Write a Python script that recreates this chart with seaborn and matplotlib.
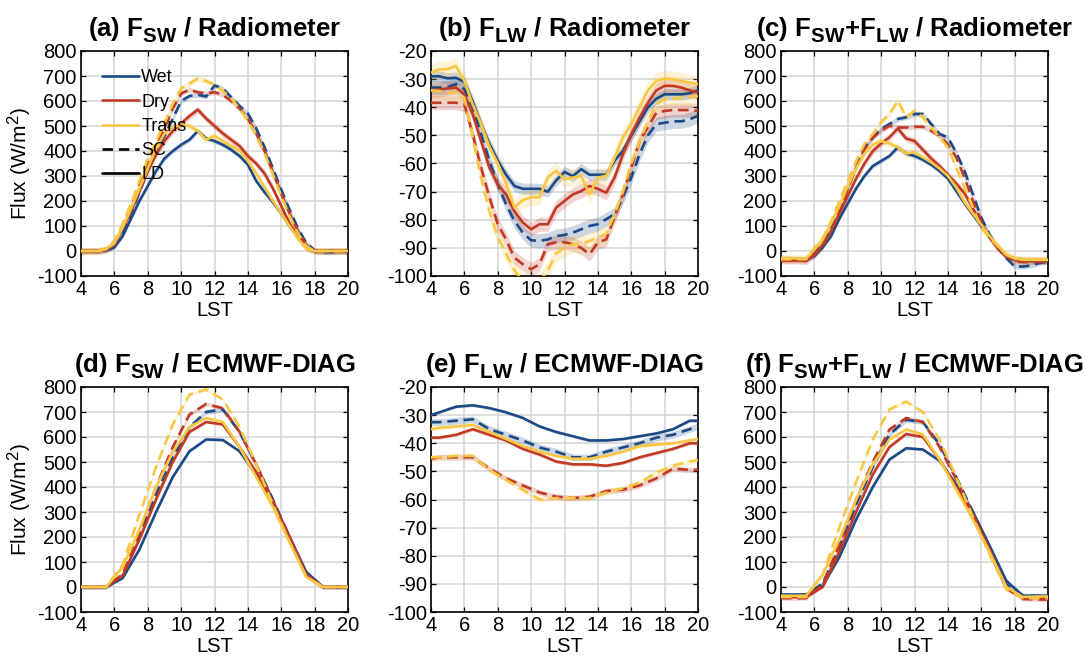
import numpy as np
import pandas as pd
import matplotlib
matplotlib.use("Agg")
import matplotlib.pyplot as plt
import matplotlib._mathtext as _mt
import seaborn as sns
from matplotlib.lines import Line2D

# ---------------- data ----------------
H_RAD = [4, 4.5, 5, 5.5, 6, 6.5, 7, 7.5, 8, 8.5, 9, 9.5, 10, 10.5, 11, 11.5,
         12, 12.5, 13, 13.5, 14, 14.5, 15, 15.5, 16, 16.5, 17, 17.5, 18, 18.5,
         19, 19.5, 20]
H_ECM = [4, 4.5, 5.5, 6.5, 7.5, 8.5, 9.5, 10.5, 11.5, 12.5, 13.5, 14.5, 15.5,
         16.5, 17.5, 18.5, 19.5, 20]

REGIMES = ["Wet", "Dry", "Trans"]
PRODUCTS = ["SC", "LD"]

# (a) F_SW / Radiometer
A_WET_SC = [0, 0, 0, 5, 20, 75, 150, 235, 320, 395, 460, 530, 600, 620, 625, 618,
            662, 650, 615, 580, 550, 490, 415, 330, 245, 165, 90, 32, 2, -5, -5, -3, -2]
A_DRY_SC = [0, 0, 0, 5, 30, 95, 175, 265, 350, 420, 490, 570, 630, 645, 635, 630,
            635, 625, 600, 570, 530, 470, 400, 315, 230, 150, 80, 25, 0, 0, 0, 0, 0]
A_TRANS_SC = [0, 0, 0, 8, 40, 110, 190, 280, 370, 440, 510, 590, 650, 670, 690, 680,
              665, 640, 610, 570, 520, 460, 390, 305, 220, 140, 70, 20, 0, 0, 0, 0, 0]
A_WET_LD = [0, 0, 0, 3, 15, 60, 130, 200, 260, 320, 370, 400, 425, 445, 480, 450,
            440, 425, 405, 380, 345, 280, 235, 195, 150, 100, 55, 15, 0, 0, 0, 0, 0]
A_DRY_LD = [0, 0, 0, 5, 25, 90, 160, 240, 320, 385, 440, 480, 510, 540, 565, 530,
            500, 470, 445, 420, 380, 350, 310, 250, 180, 110, 60, 15, 0, 0, 0, 0, 0]
A_TRANS_LD = [0, 0, 0, 8, 30, 95, 170, 250, 330, 410, 470, 495, 505, 500, 480, 445,
              460, 440, 420, 400, 360, 310, 255, 200, 150, 100, 50, 10, 0, 0, 0, 0, 0]

# (b) F_LW / Radiometer
B_WET_SC = [-33, -33, -32.8, -31.8, -33.6, -40, -49.6, -59, -67.4, -74.5, -80.4, -84.6,
            -87.3, -87.5, -87, -85.8, -85.4, -84.6, -83.4, -82.2, -81.6, -79.8, -78,
            -72, -65, -56.7, -50, -46, -45.5, -45, -45, -44.3, -43]
B_DRY_SC = [-38.4, -38.4, -38.4, -38.4, -39, -49.6, -61.5, -72, -81.6, -87, -93.5, -95.8,
            -97.6, -95.8, -88.7, -88, -88, -88.7, -90, -92.3, -88, -87, -79, -71, -61.5,
            -52, -47, -42, -41.3, -41, -41, -41, -41.3]
B_TRANS_SC = [-34, -34.2, -34.8, -34.8, -36.6, -51, -65, -77, -86, -92, -98, -101.7,
              -103, -102, -98, -92, -90, -88.7, -88.7, -87.5, -86.4, -85, -78, -70, -60,
              -52, -45, -39, -37, -37, -36.6, -36.3, -36]
B_WET_LD = [-29, -29, -29.7, -29.5, -31, -38, -46, -53, -59, -64, -68, -69, -69, -69,
            -70, -66, -63, -64.5, -62, -64, -64, -64, -59, -55.5, -50, -45, -40, -37,
            -35.4, -35.4, -35.4, -35, -34]
B_DRY_LD = [-34, -33.7, -33.3, -33, -35.4, -42.5, -52, -61.5, -67.4, -71, -77, -81,
            -83.4, -81.6, -81.6, -75.7, -73.3, -71, -69.8, -68, -69, -70.4, -65, -56.7,
            -49.6, -43.7, -38.4, -34, -32.4, -32.4, -33, -34, -34.8]
B_TRANS_LD = [-27.7, -26.5, -26.5, -25.3, -30.7, -39, -46, -54, -60, -67, -75.7, -73,
              -72, -72, -65, -62.6, -65.6, -65, -64.4, -71, -65, -64.4, -58, -50.8, -46,
              -40, -34, -30.7, -29.7, -30, -30.7, -31.2, -31.8]

# (c) F_SW+F_LW / Radiometer
C_WET_SC = [-33, -33, -33, -33, -8, 32, 92, 166, 253, 334, 414, 454, 488, 508, 528, 535,
            548, 548, 508, 468, 454, 394, 320, 227, 133, 66, 12, -28, -62, -62, -58, -48, -42]
C_DRY_SC = [-38, -38, -38, -38, -15, 19, 79, 160, 247, 334, 407, 454, 481, 501, 494, 494,
            497, 497, 481, 461, 427, 374, 293, 200, 119, 52, 12, -21, -42, -44, -44, -44, -44]
C_TRANS_SC = [-33, -33, -33, -33, 12, 52, 119, 200, 280, 360, 428, 468, 515, 548, 601, 535,
              561, 535, 495, 455, 414, 334, 253, 173, 93, 52, 19, -15, -28, -33, -35, -35, -35]
C_WET_LD = [-30, -30, -32, -33, -20, 15, 60, 130, 190, 250, 300, 340, 360, 380, 415, 390,
            380, 365, 345, 320, 290, 240, 190, 145, 100, 55, 15, -20, -35, -40, -40, -40, -40]
C_DRY_LD = [-38, -38, -38, -40, -15, 25, 80, 150, 220, 290, 350, 400, 430, 455, 490, 450,
            440, 405, 370, 340, 305, 270, 230, 170, 110, 55, 10, -20, -35, -38, -38, -38, -38]
C_TRANS_LD = [-28, -28, -30, -30, 5, 45, 110, 180, 260, 330, 390, 425, 440, 430, 415, 390,
              395, 375, 355, 330, 300, 255, 195, 150, 105, 60, 20, -15, -30, -35, -35, -35, -35]

# (d) F_SW / ECMWF-DIAG
D_WET_SC = [0, 0, 0, 50, 200, 370, 520, 640, 700, 710, 620, 490, 350, 200, 55, 0, 0, 0]
D_DRY_SC = [0, 0, 0, 50, 220, 400, 560, 690, 732, 715, 620, 490, 345, 190, 45, 0, 0, 0]
D_TRANS_SC = [0, 0, 0, 90, 290, 480, 650, 770, 790, 750, 640, 490, 330, 180, 40, 0, 0, 0]
D_WET_LD = [0, 0, 0, 36, 150, 300, 440, 543, 590, 588, 543, 450, 340, 200, 60, 0, 0, 0]
D_DRY_LD = [0, 0, 0, 45, 190, 350, 500, 620, 660, 650, 560, 460, 340, 200, 50, 0, 0, 0]
D_TRANS_LD = [0, 0, 0, 80, 230, 400, 540, 640, 676, 660, 560, 440, 320, 180, 40, 0, 0, 0]

# (e) F_LW / ECMWF-DIAG
E_WET_SC = [-32.5, -32.5, -32, -31.5, -35, -37, -39, -41.5, -43, -45, -45, -43, -41.5,
            -40, -38, -37, -35, -34]
E_DRY_SC = [-45.5, -45, -45, -45, -49, -52.5, -55, -57.5, -59, -59.5, -59, -57, -56.5,
            -55, -52.5, -49, -49.5, -49.5]
E_TRANS_SC = [-45, -45, -44.5, -44.5, -49.5, -53, -56.5, -60, -59.5, -59.5, -59.5, -57.5,
              -56, -54, -50.5, -48, -46.5, -46]
E_WET_LD = [-30, -29, -27, -26.5, -27.5, -29, -31, -34, -36, -37.5, -39, -39, -38.5,
            -37.5, -36.5, -35, -32, -32]
E_DRY_LD = [-38, -38, -37, -35, -37, -39, -42, -44, -46.5, -47.5, -47.5, -48, -47, -45,
            -43.5, -42, -40, -40]
E_TRANS_LD = [-35, -34.5, -34, -33.5, -36, -38.5, -41, -43, -44.5, -45.5, -45.5, -44.5,
              -43, -41, -40.5, -40, -39, -38.5]

# (f) F_SW+F_LW / ECMWF-DIAG
F_WET_SC = [-33, -33, -33, 15, 160, 330, 480, 610, 669, 660, 570, 440, 300, 160, 10, -35, -35, -35]
F_DRY_SC = [-45, -45, -45, 10, 170, 350, 500, 630, 676, 660, 560, 430, 290, 140, -5, -48, -50, -50]
F_TRANS_SC = [-40, -40, -40, 50, 240, 420, 590, 710, 742, 700, 590, 440, 280, 130, -10, -45, -45, -45]
F_WET_LD = [-30, -30, -30, 5, 120, 270, 400, 510, 555, 550, 505, 410, 300, 165, 25, -35, -35, -35]
F_DRY_LD = [-40, -40, -40, 0, 140, 300, 450, 560, 612, 600, 510, 400, 290, 150, 0, -45, -42, -42]
F_TRANS_LD = [-35, -35, -35, 50, 190, 350, 490, 590, 630, 610, 510, 390, 270, 140, 0, -40, -38, -38]

# half-width of shaded spread, order: Wet SC, Dry SC, Trans SC, Wet LD, Dry LD, Trans LD
BAND_A = [10, 10, 12, 9, 14, 14]
BAND_B = [2.5, 2.5, 3, 2, 2.5, 3]
BAND_C = [10, 10, 12, 9, 14, 14]
BAND_D = [10, 8, 6, 5, 5, 6]
BAND_E = [1.2, 1.0, 1.0, 0.5, 0.6, 0.6]
BAND_F = [10, 8, 6, 5, 5, 6]

TITLES = [r"(a) F$_{\mathbf{SW}}$ / Radiometer",
          r"(b) F$_{\mathbf{LW}}$ / Radiometer",
          r"(c) F$_{\mathbf{SW}}$+F$_{\mathbf{LW}}$ / Radiometer",
          r"(d) F$_{\mathbf{SW}}$ / ECMWF-DIAG",
          r"(e) F$_{\mathbf{LW}}$ / ECMWF-DIAG",
          r"(f) F$_{\mathbf{SW}}$+F$_{\mathbf{LW}}$ / ECMWF-DIAG"]

COLORS = {"Wet": "#1b4a86", "Dry": "#c23a25", "Trans": "#f8c744"}

# ---------------- style ----------------
sns.set_theme(style="ticks")
plt.rcParams["font.family"] = ["Liberation Sans", "DejaVu Sans"]
plt.rcParams["mathtext.fontset"] = "custom"
plt.rcParams["mathtext.rm"] = "Liberation Sans"
plt.rcParams["mathtext.bf"] = "Liberation Sans:bold"
plt.rcParams["mathtext.it"] = "Liberation Sans:italic"
plt.rcParams["axes.unicode_minus"] = False
plt.rcParams["text.color"] = "black"
plt.rcParams["axes.labelcolor"] = "black"
_mt.SHRINK_FACTOR = 0.8  # slightly larger subscripts, as in the reference
try:
    _mt.FontConstantsBase.sub1 = 0.45
    _mt.FontConstantsBase.sub2 = 0.55
except Exception:
    pass

panels = [
    (H_RAD, [A_WET_SC, A_DRY_SC, A_TRANS_SC, A_WET_LD, A_DRY_LD, A_TRANS_LD], BAND_A, "sw"),
    (H_RAD, [B_WET_SC, B_DRY_SC, B_TRANS_SC, B_WET_LD, B_DRY_LD, B_TRANS_LD], BAND_B, "lw"),
    (H_RAD, [C_WET_SC, C_DRY_SC, C_TRANS_SC, C_WET_LD, C_DRY_LD, C_TRANS_LD], BAND_C, "sw"),
    (H_ECM, [D_WET_SC, D_DRY_SC, D_TRANS_SC, D_WET_LD, D_DRY_LD, D_TRANS_LD], BAND_D, "sw"),
    (H_ECM, [E_WET_SC, E_DRY_SC, E_TRANS_SC, E_WET_LD, E_DRY_LD, E_TRANS_LD], BAND_E, "lw"),
    (H_ECM, [F_WET_SC, F_DRY_SC, F_TRANS_SC, F_WET_LD, F_DRY_LD, F_TRANS_LD], BAND_F, "sw"),
]
KEYS = [(r, p) for p in PRODUCTS for r in REGIMES]

fig = plt.figure(figsize=(10.86, 6.64), dpi=100)
lefts = [81, 431, 781]
W, H = 267, 225
tops = [51, 387]

for i, (hours, series, bands, kind) in enumerate(panels):
    row, col = divmod(i, 3)
    x0 = lefts[col] / 1086
    y0 = (664 - tops[row] - H) / 664
    ax = fig.add_axes([x0, y0, W / 1086, H / 664])

    rows = []
    for (reg, prod), vals in zip(KEYS, series):
        for h, v in zip(hours, vals):
            rows.append({"LST": h, "Flux": v, "Regime": reg, "Product": prod})
    df = pd.DataFrame(rows)

    for (reg, prod), vals, bw in zip(KEYS, series, bands):
        v = np.asarray(vals, float)
        ax.fill_between(hours, v - bw, v + bw, color=COLORS[reg], alpha=0.22,
                        lw=0, zorder=2)

    sns.lineplot(data=df, x="LST", y="Flux", hue="Regime", style="Product",
                 hue_order=REGIMES, style_order=PRODUCTS, palette=COLORS,
                 dashes={"SC": (4, 2.2), "LD": ""}, lw=1.9, legend=False,
                 errorbar=None, estimator=None, sort=False, ax=ax, zorder=3)

    ax.set_xlim(4, 20)
    ax.set_xticks(range(4, 21, 2))
    if kind == "sw":
        ax.set_ylim(-100, 800)
        ax.set_yticks(range(-100, 801, 100))
    else:
        ax.set_ylim(-100, -20)
        ax.set_yticks(range(-100, -19, 10))
    ax.grid(True, color="#d4d4d4", lw=1.1, zorder=0)
    ax.set_axisbelow(True)
    ax.tick_params(direction="in", top=True, right=True, length=3.5, width=0.9,
                   labelsize=14.5, colors="black", pad=3)
    for s in ax.spines.values():
        s.set_color("black")
        s.set_linewidth(1.2)
    ax.set_xlabel("LST", fontsize=14.5, labelpad=1, color="black")
    ax.set_ylabel("Flux (W/m$^2$)" if col == 0 else "", fontsize=15, labelpad=2,
                  color="black")
    ax.set_title(TITLES[i], fontsize=18.5, fontweight="bold", pad=10, color="black")

    if i == 0:
        handles = [Line2D([], [], color=COLORS[r], lw=1.9) for r in REGIMES]
        handles += [Line2D([], [], color="black", lw=1.9, dashes=(4, 2.2)),
                    Line2D([], [], color="black", lw=1.9)]
        ax.legend(handles, REGIMES + PRODUCTS, loc="upper left",
                  bbox_to_anchor=(0.05, 0.95), frameon=False, fontsize=13,
                  handlelength=2.1, handletextpad=0.1, labelspacing=0.4,
                  borderaxespad=0.0, labelcolor="black")

fig.savefig("out.png", dpi=100)
